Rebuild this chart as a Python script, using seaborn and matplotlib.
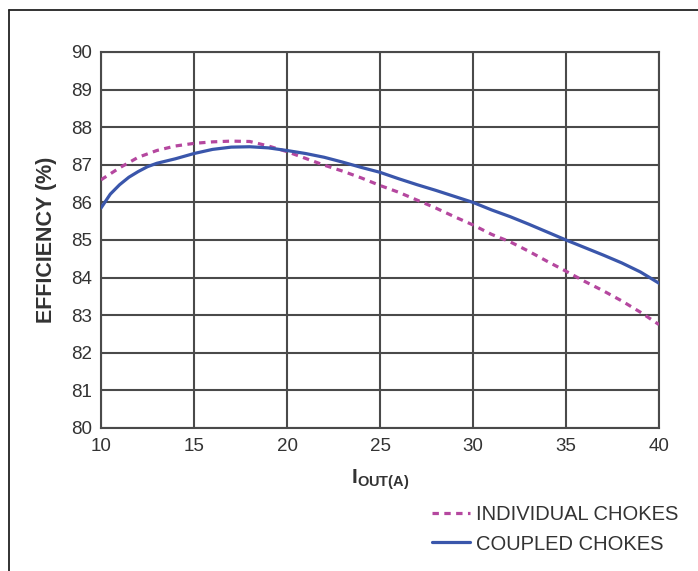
import numpy as np
import pandas as pd
import matplotlib
matplotlib.use("Agg")
import matplotlib.pyplot as plt
from matplotlib.lines import Line2D
import seaborn as sns

# --- data ---
i_out = [10, 11, 12, 13, 14, 15, 16, 17, 18, 19, 20, 21, 22, 23, 24, 25,
         26, 27, 28, 29, 30, 31, 32, 33, 34, 35, 36, 37, 38, 39, 40]
individual = [86.60, 86.92, 87.20, 87.38, 87.50, 87.57, 87.61, 87.63, 87.62, 87.50,
              87.35, 87.17, 86.99, 86.83, 86.65, 86.45, 86.27, 86.06, 85.85, 85.62,
              85.40, 85.15, 84.95, 84.70, 84.43, 84.17, 83.90, 83.65, 83.38, 83.08, 82.75]

i_out_coupled = [10, 10.5, 11, 11.5, 12, 12.5, 13, 14, 15, 16, 17, 18, 19, 20, 21, 22, 23,
                 24, 25, 26, 27, 28, 29, 30, 31, 32, 33, 34, 35, 36, 37, 38, 39, 40]
coupled = [85.85, 86.22, 86.47, 86.67, 86.82, 86.95, 87.04, 87.16, 87.30, 87.41, 87.47, 87.48,
           87.45, 87.38, 87.30, 87.20, 87.07, 86.93, 86.80, 86.63, 86.47, 86.32, 86.16,
           86.00, 85.80, 85.62, 85.42, 85.21, 85.00, 84.80, 84.60, 84.39, 84.15, 83.85]

x_ticks = [10, 15, 20, 25, 30, 35, 40]
y_ticks = list(range(80, 91))

sns.set_style("white")
plt.rcParams['font.family'] = ['Liberation Sans', 'DejaVu Sans']
plt.rcParams['mathtext.fontset'] = 'custom'
plt.rcParams['mathtext.rm'] = 'Liberation Sans'
plt.rcParams['mathtext.bf'] = 'Liberation Sans:bold'

grid_c = '#4a4a4a'
text_c = '#333333'
magenta = '#b5479f'
blue = '#3a56ab'

fig = plt.figure(figsize=(6.98, 5.71), dpi=100)
ax = fig.add_axes([101 / 698, 1 - 428 / 571, 558 / 698, 376 / 571])

df_ind = pd.DataFrame({'x': i_out, 'y': individual})
df_cpl = pd.DataFrame({'x': i_out_coupled, 'y': coupled})

sns.lineplot(data=df_ind, x='x', y='y', ax=ax, color=magenta, linewidth=2.3,
             linestyle=(0, (2.0, 1.7)), label='INDIVIDUAL CHOKES', zorder=3)
sns.lineplot(data=df_cpl, x='x', y='y', ax=ax, color=blue, linewidth=2.3,
             label='COUPLED CHOKES', zorder=4)

ax.set_xlim(10, 40)
ax.set_ylim(80, 90)
ax.set_xticks(x_ticks)
ax.set_yticks(y_ticks)
ax.grid(True, color=grid_c, linewidth=1.5)
for s in ax.spines.values():
    s.set_color(grid_c)
    s.set_linewidth(1.5)

ax.tick_params(axis='x', length=0, pad=7, labelsize=13.5, labelcolor=text_c)
ax.tick_params(axis='y', length=5, width=1.5, color=grid_c, pad=1.5,
               labelsize=13.5, labelcolor=text_c)

ax.set_ylabel('EFFICIENCY (%)', fontsize=15.5, fontweight='bold', color=text_c, labelpad=10)
ax.set_xlabel(r'I$_{\mathbf{OUT(A)}}$', fontsize=15, fontweight='bold', color=text_c, labelpad=9)

handles, labels = ax.get_legend_handles_labels()
ax.legend_.remove()
fig.legend(handles, labels, loc='center right', bbox_to_anchor=(678 / 698, 1 - 529.5 / 571),
           frameon=False, fontsize=14.5, handlelength=1.85, handletextpad=0.3,
           labelspacing=0.5, borderpad=0, borderaxespad=0, labelcolor=text_c)

# outer frame (left and top edges)
fig.add_artist(Line2D([9 / 698, 9 / 698], [0, 1 - 10 / 571], transform=fig.transFigure,
                      color='#222222', linewidth=1.3))
fig.add_artist(Line2D([9 / 698, 1], [1 - 10 / 571, 1 - 10 / 571], transform=fig.transFigure,
                      color='#222222', linewidth=1.3))

fig.savefig('out.png', dpi=100, facecolor='white')
